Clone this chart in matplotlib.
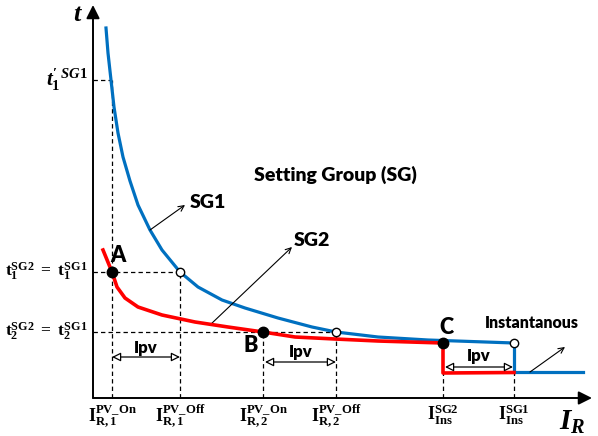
import matplotlib
matplotlib.use('Agg')
import matplotlib.pyplot as plt

plt.rcParams['mathtext.fontset'] = 'custom'
plt.rcParams['mathtext.rm'] = 'Liberation Serif:bold'
plt.rcParams['mathtext.it'] = 'Liberation Serif:bold:italic'
plt.rcParams['mathtext.bf'] = 'Liberation Serif:bold'

# ---- data (schematic units: I along x, t along y) ----
sg1_I = [13, 15, 18, 21, 25, 30, 37, 45, 57, 69, 87, 105, 129, 152, 185, 219, 243, 285, 335, 421]
sg1_t = [370, 345, 318, 291, 265, 241, 217, 193, 168, 148, 126, 111, 98, 90, 80, 71, 66, 61, 58, 55]
sg1_inst_I = [421, 421, 490]
sg1_inst_t = [55, 26.5, 26.5]

sg2_I = [10, 19, 24, 32, 45, 69, 102, 135, 170, 202, 242, 285, 350]
sg2_t = [148, 126, 111, 100, 91, 83, 76, 71, 66, 61, 59, 57, 55]
sg2_inst_I = [350, 350, 421]
sg2_inst_t = [55, 25, 25.5]

I_on_1, I_off_1 = 19, 87
I_on_2, I_off_2 = 170, 243
I_ins_sg2, I_ins_sg1 = 350, 421
t1_prime, t1, t2, t_ins = 318, 126, 66, 55

x_tick_pos = [I_on_1, I_off_1, I_on_2, I_off_2, I_ins_sg2, I_ins_sg1]
x_tick_labels = [r'$\mathrm{I}_{\mathrm{R,1}}^{\mathrm{PV\_On}}$',
                 r'$\mathrm{I}_{\mathrm{R,1}}^{\mathrm{PV\_Off}}$',
                 r'$\mathrm{I}_{\mathrm{R,2}}^{\mathrm{PV\_On}}$',
                 r'$\mathrm{I}_{\mathrm{R,2}}^{\mathrm{PV\_Off}}$',
                 r'$\mathrm{I}_{\mathrm{Ins}}^{\mathrm{SG2}}$',
                 r'$\mathrm{I}_{\mathrm{Ins}}^{\mathrm{SG1}}$']
y_tick_pos = [t1_prime, t1, t2]
y_tick_labels = [r"$t_{1}^{\prime\ SG1}$",
                 r'$\mathrm{t}_{\mathrm{1}}^{\mathrm{SG2}}\ \mathrm{=}\ \mathrm{t}_{\mathrm{1}}^{\mathrm{SG1}}$',
                 r'$\mathrm{t}_{\mathrm{2}}^{\mathrm{SG2}}\ \mathrm{=}\ \mathrm{t}_{\mathrm{2}}^{\mathrm{SG1}}$']

BLUE = '#0070C0'
RED = '#FF0000'
dash = (0, (3.5, 2.5))
TXT = dict(family='Lato', weight='heavy', color='black')

fig = plt.figure(figsize=(5.98, 4.36), dpi=100)
ax = fig.add_axes([0, 0, 1, 1])
ax.set_xlim(-93, 505)
ax.set_ylim(-38, 398)
ax.axis('off')

# axes with arrows
ax.annotate('', xy=(0, 393), xytext=(0, 0),
            arrowprops=dict(arrowstyle='-|>', lw=1.4, color='black', mutation_scale=20,
                            shrinkA=0, shrinkB=0))
ax.annotate('', xy=(499, 0), xytext=(0, 0),
            arrowprops=dict(arrowstyle='-|>', lw=1.4, color='black', mutation_scale=20,
                            shrinkA=0, shrinkB=0))

# dashed guides
dk = dict(color='black', lw=0.9, ls=dash, zorder=1)
ax.plot([0, sg1_I[2]], [t1_prime, t1_prime], **dk)
ax.plot([I_on_1, I_on_1], [0, t1_prime], **dk)
ax.plot([0, I_off_1], [t1, t1], **dk)
ax.plot([I_off_1, I_off_1], [0, t1], **dk)
ax.plot([0, I_off_2], [t2, t2], **dk)
ax.plot([I_on_2, I_on_2], [0, t2], **dk)
ax.plot([I_off_2, I_off_2], [0, t2], **dk)
ax.plot([I_ins_sg2, I_ins_sg2], [0, sg2_inst_t[1]], **dk)
ax.plot([I_ins_sg1, I_ins_sg1], [0, sg1_inst_t[1]], **dk)

# curves
ax.plot(sg1_I, sg1_t, color=BLUE, lw=2.3, zorder=3, solid_joinstyle='round')
ax.plot(sg1_inst_I, sg1_inst_t, color=BLUE, lw=2.3, zorder=3)
ax.plot(sg2_I, sg2_t, color=RED, lw=2.6, zorder=4, solid_joinstyle='round')
ax.plot(sg2_inst_I, sg2_inst_t, color=RED, lw=2.6, zorder=4)

# points
ax.plot([I_on_1, I_on_2, I_ins_sg2], [t1, t2, t_ins], 'o', color='black', ms=7.5, zorder=6)
ax.plot([I_off_1, I_off_2, I_ins_sg1], [t1, t2, t_ins], 'o', mfc='white', mec='black',
        mew=1, ms=6, zorder=6)

# Ipv arrows
for (a, b, y, ly) in [(I_on_1, I_off_1, 41, 50), (I_on_2 + 2, I_off_2, 36, 46),
                      (I_ins_sg2 + 2, I_ins_sg1 - 1, 31, 42)]:
    ax.annotate('', xy=(b, y), xytext=(a, y),
                arrowprops=dict(arrowstyle='<|-|>', lw=0.9, color='black', fc='white',
                                mutation_scale=13, shrinkA=0, shrinkB=0), zorder=5)
    ax.text((a + b) / 2, ly, 'Ipv', ha='center', va='center', fontsize=12, **TXT)

# point letters
ax.text(25, 143, 'A', ha='center', va='center', fontsize=15.5, **TXT)
ax.text(158, 52, 'B', ha='center', va='center', fontsize=15.5, **TXT)
ax.text(353, 70, 'C', ha='center', va='center', fontsize=15.5, **TXT)

# annotations
ax.text(242, 223, 'Setting Group (SG)', ha='center', va='center', fontsize=14, **TXT)
ax.text(115, 196, 'SG1', ha='center', va='center', fontsize=14, **TXT)
ax.text(219, 158, 'SG2', ha='center', va='center', fontsize=14, **TXT)
ax.text(439, 75, 'Instantanous', ha='center', va='center', fontsize=11.5, **TXT)
sk = dict(arrowstyle='->', lw=0.8, color='black', mutation_scale=10, shrinkA=0, shrinkB=0)
ax.annotate('', xy=(92, 193), xytext=(57, 168), arrowprops=sk)
ax.annotate('', xy=(199, 151), xytext=(117, 73), arrowprops=sk)
ax.annotate('', xy=(472, 51), xytext=(437, 26), arrowprops=sk)

# axis labels
ax.text(-15, 384, r'$t$', ha='center', va='center', fontsize=19)
ax.text(479, -24, r'$I_R$', ha='center', va='center', fontsize=21)

# tick labels
for x, lab in zip(x_tick_pos, x_tick_labels):
    ax.text(x, -5, lab, ha='center', va='top', fontsize=13)
for y, lab, fs in zip(y_tick_pos, y_tick_labels, [15, 12.5, 12.5]):
    ax.text(-5, y, lab, ha='right', va='center', fontsize=fs)

fig.savefig('out.png', dpi=100)
